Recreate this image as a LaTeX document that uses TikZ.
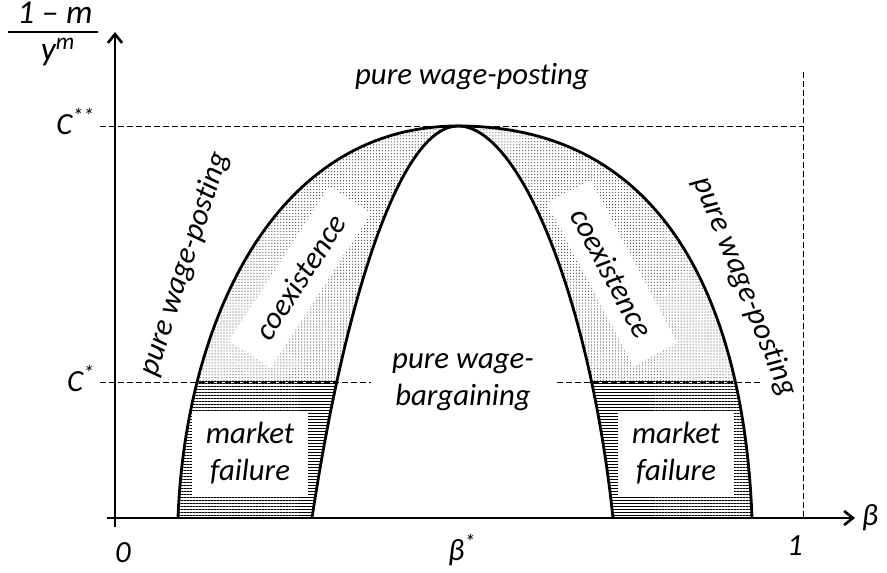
\documentclass[tikz,border=0pt]{standalone}
\usepackage{fontspec}
\setmainfont{Carlito}[Ligatures=NoCommon]
\usetikzlibrary{arrows.meta,patterns.meta}

\begin{document}
\begin{tikzpicture}[x=0.2mm, y=0.2mm,
    axis/.style={line width=1.5pt, -{Straight Barb[length=5pt,width=8pt]}},
    guide/.style={line width=0.5pt, dash pattern=on 3.4pt off 1.7pt},
    boundary/.style={line width=1.6pt},
    lbl/.style={font=\fontsize{17.5}{21}\selectfont\itshape, align=center},
    frac/.style={font=\fontsize{19}{23}\selectfont\itshape, anchor=base},
    blank/.style={lbl, fill=white}]
    \useasboundingbox (0,0) rectangle (887,572);

    % Guide lines
    \draw[guide] (100,446) -- (803,446);
    \draw[guide] (803,500) -- (803,54);
    \draw[guide] (100,190) -- (760,190);

    % Coexistence (dotted) above C*
    \begin{scope}
        \clip (0,190) rectangle (887,572);
        \fill[pattern={Dots[distance=1.7pt,radius=0.35pt]}, pattern color=black!70]
            (178,54) .. controls (185,242) and (270,446) .. (458,446)
            .. controls (680,446) and (745,242) .. (752,54) -- (613,54)
            .. controls (590,272) and (520,446) .. (458,446)
            .. controls (400,446) and (345,272) .. (312,54) -- cycle;
    \end{scope}

    % Market failure (hatched) below C*
    \begin{scope}
        \clip (0,0) rectangle (887,190);
        \fill[pattern={Lines[distance=1.7pt,line width=0.8pt]}]
            (178,54) .. controls (185,242) and (270,446) .. (458,446)
            .. controls (680,446) and (745,242) .. (752,54) -- (613,54)
            .. controls (590,272) and (520,446) .. (458,446)
            .. controls (400,446) and (345,272) .. (312,54) -- cycle;
    \end{scope}

    % Region labels on white
    \node[blank, minimum width=66pt, minimum height=48pt] (failL) at (250,119) {market\\failure};
    \node[blank, minimum width=66pt, minimum height=48pt] (failR) at (676,119) {market\\failure};
    \node[blank, rotate=57, inner xsep=12pt, inner ysep=8pt] (coexL) at (300,295) {coexistence};
    \node[blank, rotate=-62, inner xsep=12pt, inner ysep=8pt] (coexR) at (612,299) {coexistence};
    \node[blank, inner xsep=12pt, inner ysep=1pt] (bargain) at (463,190) {pure wage-\\bargaining};

    % Boundary curves
    \draw[boundary] (178,54) .. controls (185,242) and (270,446) .. (458,446)
        .. controls (680,446) and (745,242) .. (752,54);
    \draw[boundary] (312,54) .. controls (345,272) and (400,446) .. (458,446)
        .. controls (520,446) and (590,272) .. (613,54);

    % Axes
    \draw[axis] (115,45) -- (115,540);
    \draw[axis] (107,54) -- (855,54);

    % Axis labels
    \node[frac] (num) at (55,548) {1 – m};
    \node[frac] (den) at (58,511) {y\textsuperscript{m}};
    \draw[line width=0.8pt] (8,540) -- (98,540);
    \node[lbl, anchor=base east] (css) at (101,437) {C\textsuperscript{**}};
    \node[lbl, anchor=base east] (cs) at (101,180) {C\textsuperscript{*}};
    \node[lbl] (zero) at (123,19) {0};
    \node[lbl] (bstar) at (462,22) {β\textsuperscript{*}};
    \node[lbl] (one) at (795,26) {1};
    \node[lbl] (beta) at (870,54) {β};

    % Other region labels
    \node[lbl] (postT) at (472,495) {pure wage-posting};
    \node[lbl, rotate=72] (postL) at (185,308) {pure wage-posting};
    \node[lbl, rotate=-68] (postR) at (745,285) {pure wage-posting};
\end{tikzpicture}
\end{document}
